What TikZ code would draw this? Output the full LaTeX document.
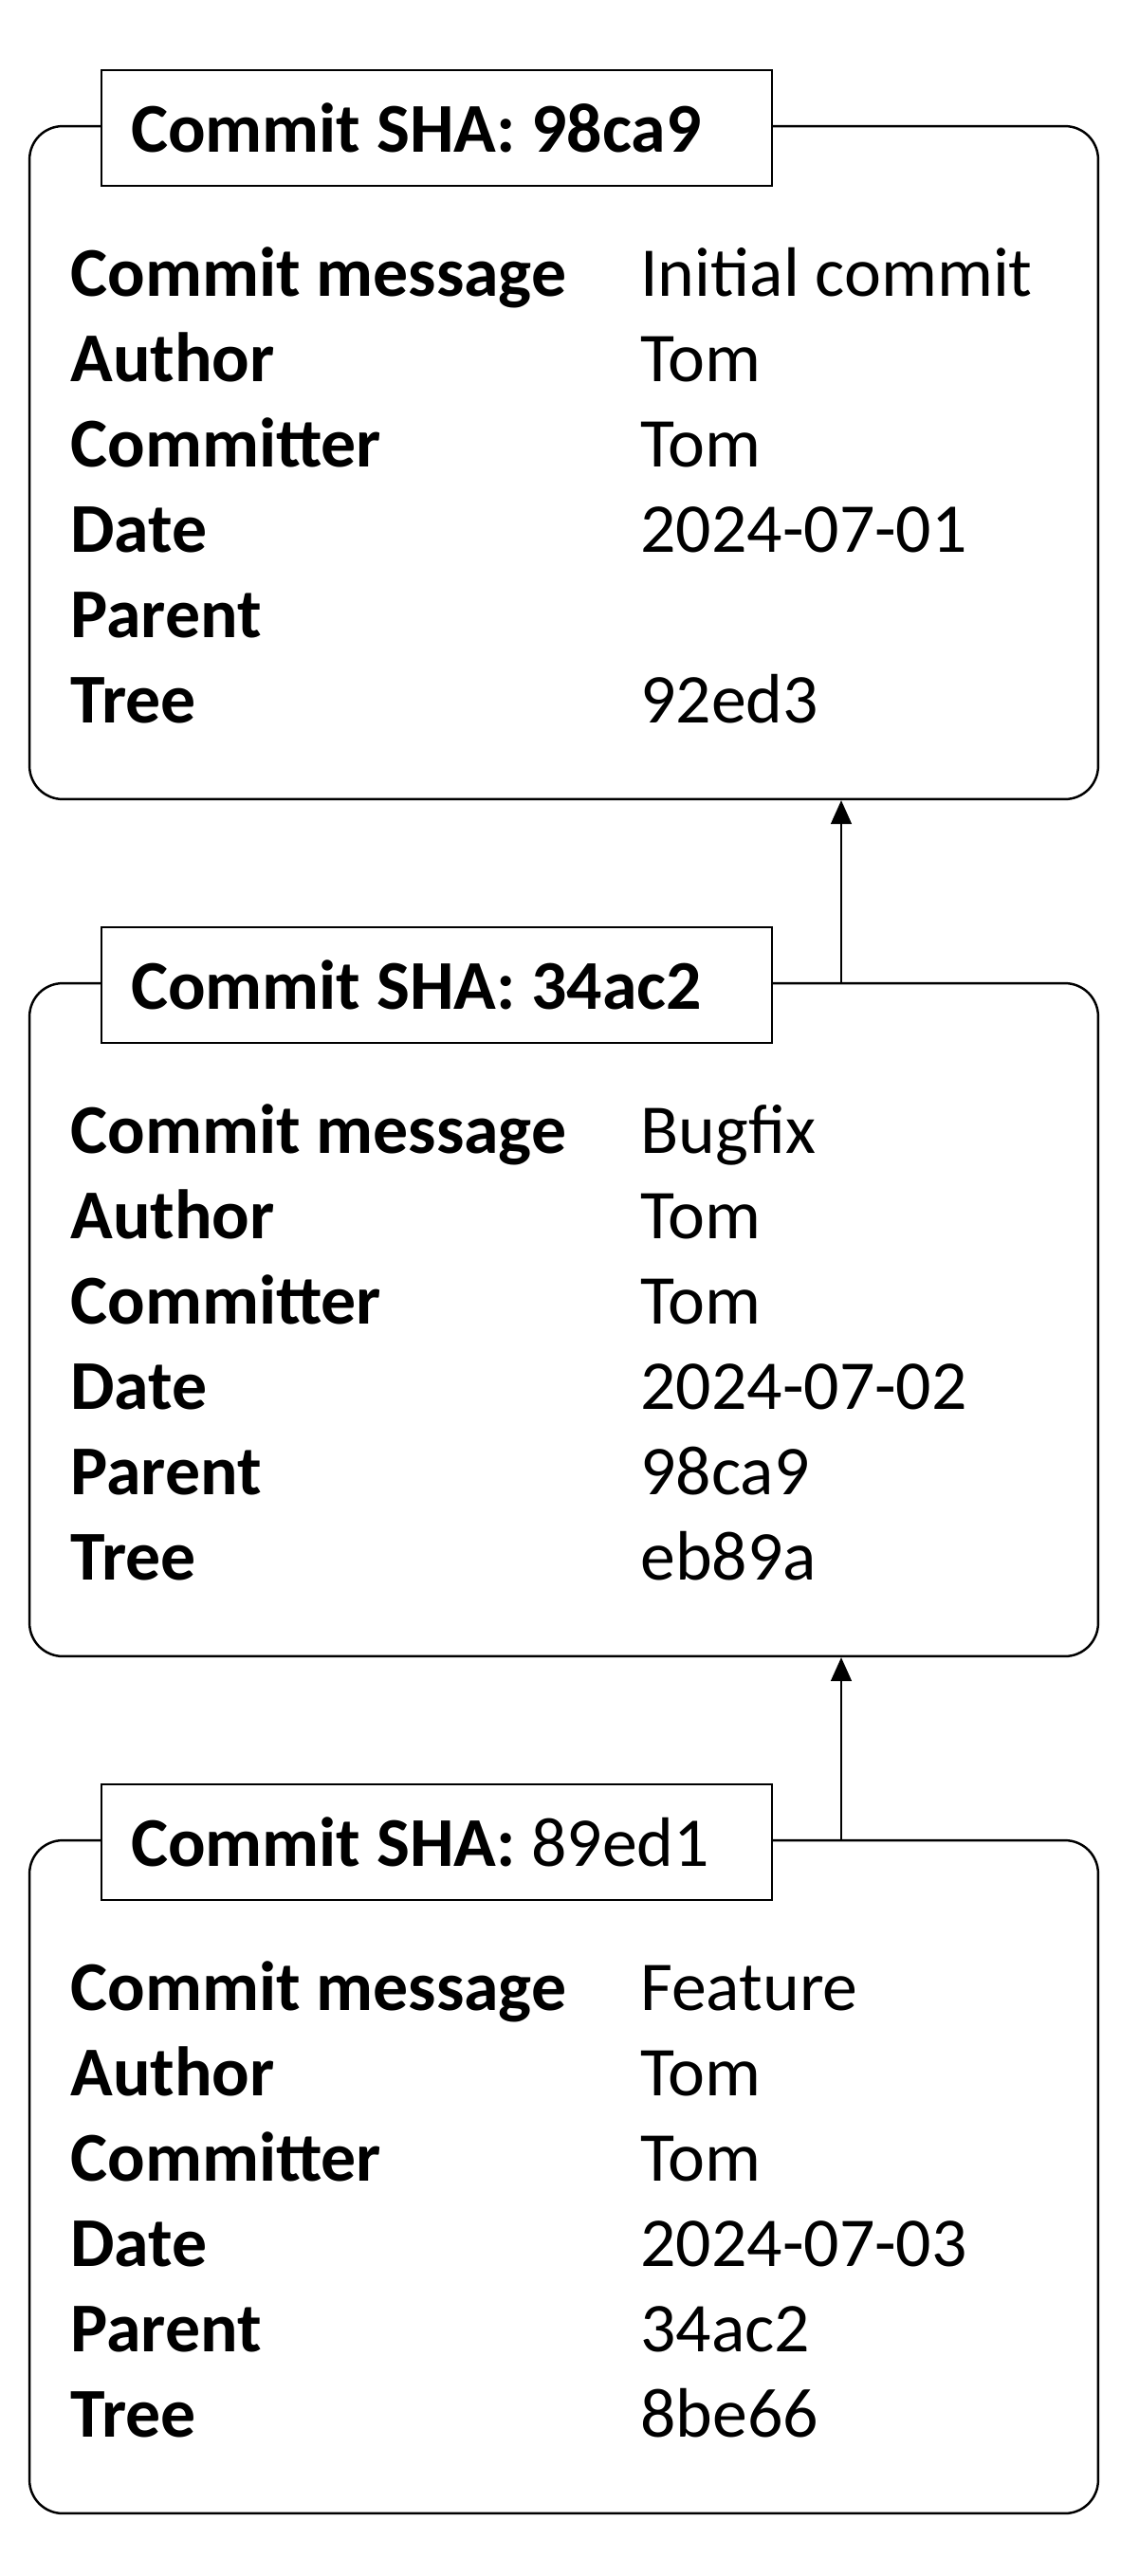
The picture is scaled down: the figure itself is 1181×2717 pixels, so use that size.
\documentclass[tikz,border=0pt]{standalone}
\usepackage{fontspec}
\setmainfont{Carlito}
\usetikzlibrary{arrows.meta}
\newcommand\boxtext{\fontsize{42}{50}\selectfont\frenchspacing}
\tikzset{
  commit/.style={draw, line width=1.4pt, rounded corners=0.7cm, minimum width=22.54cm, minimum height=14.2cm},
  sha/.style={draw, line width=1.1pt, fill=white, minimum width=14.14cm, minimum height=2.44cm,
    text width=12.9cm, inner xsep=0.62cm, align=flush left},
  fieldkey/.style={anchor=base west, inner sep=0pt, font=\boxtext\bfseries},
  fieldval/.style={anchor=base west, inner sep=0pt},
  parent/.style={-{Triangle[length=0.5cm,width=0.44cm]}, line width=0.9pt},
}
\begin{document}
\begin{tikzpicture}[x=0.02cm, y=-0.02cm, font=\boxtext]
  \useasboundingbox (0,0) rectangle (1181,2717);

  \foreach \n/\top/\sha/\msg/\day/\pa/\tree in {
      1/133/\textbf{98ca9}/Initial commit/2024-07-01/{}/92ed3,
      2/1037/\textbf{34ac2}/Bugfix/2024-07-02/98ca9/eb89a,
      3/1941/89ed1/Feature/2024-07-03/34ac2/8be66}{
    \node[commit] (c\n) at (594.5,\top+355) {};
    \node[sha] (t\n) at (460.5,\top+2) {\textbf{Commit SHA:} \sha};
    % fields
    \node[fieldkey] (msg\n) at (74,\top+179) {Commit message};
    \node[fieldval] (msgv\n) at (675,\top+179) {\msg};
    \node[fieldkey] (aut\n) at (74,\top+269) {Author};
    \node[fieldval] (autv\n) at (675,\top+269) {Tom};
    \node[fieldkey] (com\n) at (74,\top+359) {Committer};
    \node[fieldval] (comv\n) at (675,\top+359) {Tom};
    \node[fieldkey] (day\n) at (74,\top+449) {Date};
    \node[fieldval] (dayv\n) at (675,\top+449) {\day};
    \node[fieldkey] (par\n) at (74,\top+539) {Parent};
    \node[fieldval] (parv\n) at (675,\top+539) {\pa};
    \node[fieldkey] (tree\n) at (74,\top+629) {Tree};
    \node[fieldval] (treev\n) at (675,\top+629) {\tree};
  }

  \coordinate (ax) at (887,0);
  \draw[parent] (c2.north -| ax) -- (c1.south -| ax);
  \draw[parent] (c3.north -| ax) -- (c2.south -| ax);
\end{tikzpicture}
\end{document}
